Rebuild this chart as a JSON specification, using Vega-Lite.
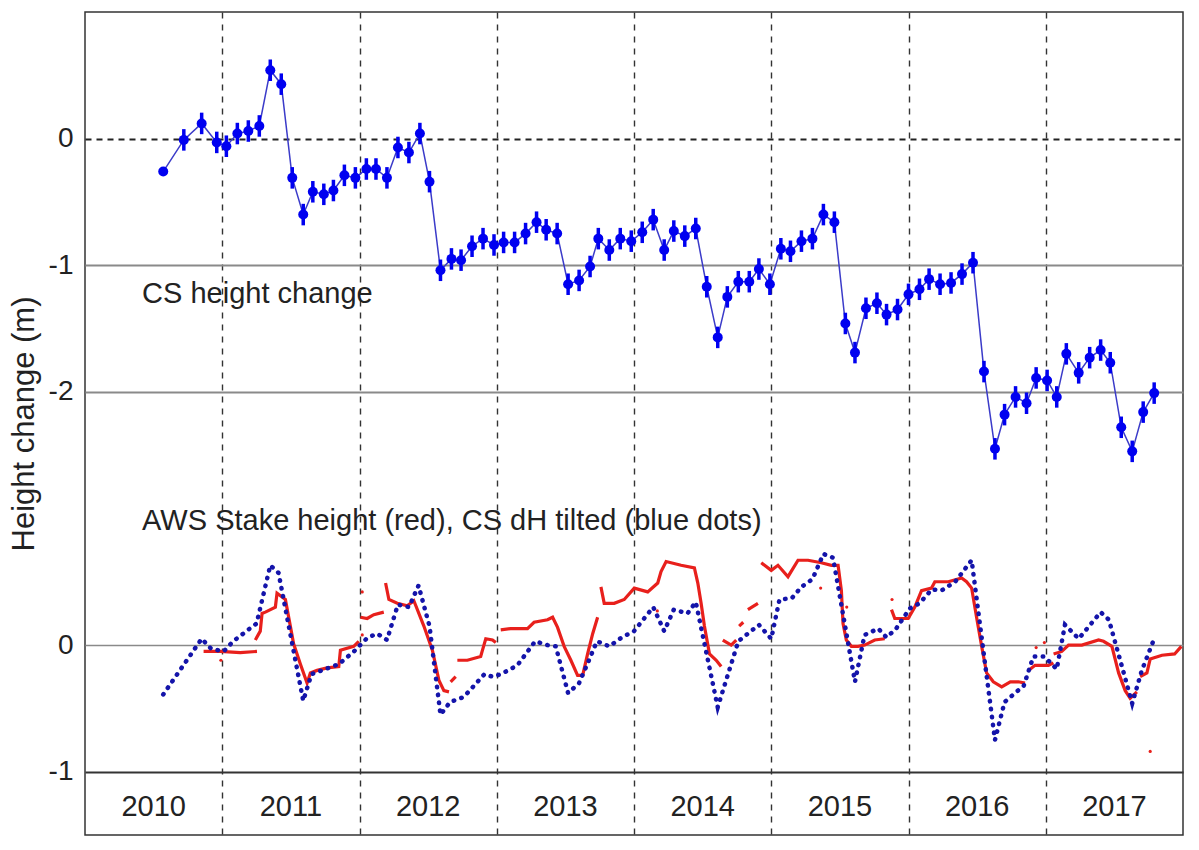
{
  "$schema": "https://vega.github.io/schema/vega-lite/v6.json",
  "width": 1098,
  "height": 823,
  "autosize": {"type": "none"},
  "padding": {"left": 85, "top": 12, "right": 16, "bottom": 15},
  "background": "white",
  "config": {
    "font": "Liberation Sans",
    "view": {"stroke": "#333333", "strokeWidth": 1.5}
  },
  "datasets": {
    "cs": [
      {"t": 2010.57, "v": -0.26, "err": 0},
      {"t": 2010.72, "v": -0.01, "err": 0.085},
      {"t": 2010.85, "v": 0.12, "err": 0.085},
      {"t": 2010.96, "v": -0.03, "err": 0.085},
      {"t": 2011.03, "v": -0.06, "err": 0.085},
      {"t": 2011.11, "v": 0.04, "err": 0.085},
      {"t": 2011.19, "v": 0.06, "err": 0.085},
      {"t": 2011.27, "v": 0.10, "err": 0.085},
      {"t": 2011.35, "v": 0.54, "err": 0.085},
      {"t": 2011.43, "v": 0.43, "err": 0.085},
      {"t": 2011.51, "v": -0.31, "err": 0.085},
      {"t": 2011.59, "v": -0.60, "err": 0.085},
      {"t": 2011.66, "v": -0.42, "err": 0.085},
      {"t": 2011.74, "v": -0.44, "err": 0.085},
      {"t": 2011.81, "v": -0.41, "err": 0.085},
      {"t": 2011.89, "v": -0.29, "err": 0.085},
      {"t": 2011.97, "v": -0.31, "err": 0.085},
      {"t": 2012.05, "v": -0.24, "err": 0.085},
      {"t": 2012.12, "v": -0.24, "err": 0.085},
      {"t": 2012.20, "v": -0.31, "err": 0.085},
      {"t": 2012.28, "v": -0.07, "err": 0.085},
      {"t": 2012.36, "v": -0.11, "err": 0.085},
      {"t": 2012.44, "v": 0.04, "err": 0.085},
      {"t": 2012.51, "v": -0.34, "err": 0.085},
      {"t": 2012.59, "v": -1.04, "err": 0.085},
      {"t": 2012.67, "v": -0.95, "err": 0.085},
      {"t": 2012.74, "v": -0.96, "err": 0.085},
      {"t": 2012.82, "v": -0.85, "err": 0.085},
      {"t": 2012.90, "v": -0.79, "err": 0.085},
      {"t": 2012.98, "v": -0.84, "err": 0.085},
      {"t": 2013.05, "v": -0.82, "err": 0.085},
      {"t": 2013.13, "v": -0.82, "err": 0.085},
      {"t": 2013.21, "v": -0.75, "err": 0.085},
      {"t": 2013.29, "v": -0.66, "err": 0.085},
      {"t": 2013.36, "v": -0.72, "err": 0.085},
      {"t": 2013.44, "v": -0.75, "err": 0.085},
      {"t": 2013.52, "v": -1.15, "err": 0.085},
      {"t": 2013.60, "v": -1.12, "err": 0.085},
      {"t": 2013.68, "v": -1.01, "err": 0.085},
      {"t": 2013.74, "v": -0.79, "err": 0.085},
      {"t": 2013.82, "v": -0.88, "err": 0.085},
      {"t": 2013.90, "v": -0.79, "err": 0.085},
      {"t": 2013.98, "v": -0.81, "err": 0.085},
      {"t": 2014.06, "v": -0.74, "err": 0.085},
      {"t": 2014.14, "v": -0.64, "err": 0.085},
      {"t": 2014.22, "v": -0.88, "err": 0.085},
      {"t": 2014.29, "v": -0.73, "err": 0.085},
      {"t": 2014.37, "v": -0.77, "err": 0.085},
      {"t": 2014.45, "v": -0.71, "err": 0.085},
      {"t": 2014.53, "v": -1.17, "err": 0.085},
      {"t": 2014.61, "v": -1.57, "err": 0.085},
      {"t": 2014.68, "v": -1.25, "err": 0.085},
      {"t": 2014.76, "v": -1.13, "err": 0.085},
      {"t": 2014.84, "v": -1.13, "err": 0.085},
      {"t": 2014.91, "v": -1.03, "err": 0.085},
      {"t": 2014.99, "v": -1.15, "err": 0.085},
      {"t": 2015.07, "v": -0.87, "err": 0.085},
      {"t": 2015.14, "v": -0.89, "err": 0.085},
      {"t": 2015.22, "v": -0.81, "err": 0.085},
      {"t": 2015.30, "v": -0.79, "err": 0.085},
      {"t": 2015.38, "v": -0.60, "err": 0.085},
      {"t": 2015.46, "v": -0.66, "err": 0.085},
      {"t": 2015.54, "v": -1.46, "err": 0.085},
      {"t": 2015.61, "v": -1.69, "err": 0.085},
      {"t": 2015.69, "v": -1.34, "err": 0.085},
      {"t": 2015.77, "v": -1.30, "err": 0.085},
      {"t": 2015.84, "v": -1.39, "err": 0.085},
      {"t": 2015.92, "v": -1.35, "err": 0.085},
      {"t": 2016.00, "v": -1.23, "err": 0.085},
      {"t": 2016.08, "v": -1.19, "err": 0.085},
      {"t": 2016.15, "v": -1.11, "err": 0.085},
      {"t": 2016.23, "v": -1.15, "err": 0.085},
      {"t": 2016.31, "v": -1.14, "err": 0.085},
      {"t": 2016.39, "v": -1.07, "err": 0.085},
      {"t": 2016.47, "v": -0.98, "err": 0.085},
      {"t": 2016.55, "v": -1.84, "err": 0.085},
      {"t": 2016.63, "v": -2.45, "err": 0.085},
      {"t": 2016.70, "v": -2.18, "err": 0.085},
      {"t": 2016.78, "v": -2.04, "err": 0.085},
      {"t": 2016.86, "v": -2.09, "err": 0.085},
      {"t": 2016.93, "v": -1.89, "err": 0.085},
      {"t": 2017.01, "v": -1.91, "err": 0.085},
      {"t": 2017.08, "v": -2.04, "err": 0.085},
      {"t": 2017.15, "v": -1.70, "err": 0.085},
      {"t": 2017.24, "v": -1.85, "err": 0.085},
      {"t": 2017.32, "v": -1.73, "err": 0.085},
      {"t": 2017.40, "v": -1.67, "err": 0.085},
      {"t": 2017.47, "v": -1.77, "err": 0.085},
      {"t": 2017.55, "v": -2.28, "err": 0.085},
      {"t": 2017.63, "v": -2.47, "err": 0.085},
      {"t": 2017.71, "v": -2.16, "err": 0.085},
      {"t": 2017.79, "v": -2.01, "err": 0.085}
    ],
    "tilted": [
      {"t": 2010.57, "v": -0.39},
      {"t": 2010.85, "v": 0.05},
      {"t": 2010.92, "v": -0.03},
      {"t": 2011.01, "v": -0.05},
      {"t": 2011.08, "v": 0.03},
      {"t": 2011.20, "v": 0.13},
      {"t": 2011.25, "v": 0.17},
      {"t": 2011.35, "v": 0.63},
      {"t": 2011.41, "v": 0.57},
      {"t": 2011.59, "v": -0.44},
      {"t": 2011.65, "v": -0.23},
      {"t": 2011.85, "v": -0.15},
      {"t": 2011.96, "v": -0.05},
      {"t": 2012.06, "v": 0.06},
      {"t": 2012.13, "v": 0.09},
      {"t": 2012.20, "v": 0.04},
      {"t": 2012.28, "v": 0.32},
      {"t": 2012.36, "v": 0.30},
      {"t": 2012.43, "v": 0.47},
      {"t": 2012.51, "v": 0.15},
      {"t": 2012.59, "v": -0.55},
      {"t": 2012.66, "v": -0.45},
      {"t": 2012.76, "v": -0.41},
      {"t": 2012.91, "v": -0.23},
      {"t": 2012.97, "v": -0.25},
      {"t": 2013.03, "v": -0.23},
      {"t": 2013.15, "v": -0.16},
      {"t": 2013.28, "v": 0.03},
      {"t": 2013.37, "v": 0.00},
      {"t": 2013.43, "v": -0.01},
      {"t": 2013.52, "v": -0.38},
      {"t": 2013.60, "v": -0.30},
      {"t": 2013.66, "v": -0.15},
      {"t": 2013.73, "v": 0.03},
      {"t": 2013.82, "v": -0.01},
      {"t": 2013.91, "v": 0.06},
      {"t": 2014.00, "v": 0.11},
      {"t": 2014.14, "v": 0.30},
      {"t": 2014.22, "v": 0.11},
      {"t": 2014.29, "v": 0.28},
      {"t": 2014.39, "v": 0.25},
      {"t": 2014.45, "v": 0.34},
      {"t": 2014.61, "v": -0.49},
      {"t": 2014.76, "v": 0.03},
      {"t": 2014.91, "v": 0.16},
      {"t": 2015.00, "v": 0.05},
      {"t": 2015.06, "v": 0.36},
      {"t": 2015.15, "v": 0.37},
      {"t": 2015.22, "v": 0.46},
      {"t": 2015.30, "v": 0.52},
      {"t": 2015.38, "v": 0.72},
      {"t": 2015.45, "v": 0.69},
      {"t": 2015.61, "v": -0.29},
      {"t": 2015.68, "v": 0.08},
      {"t": 2015.78, "v": 0.13},
      {"t": 2015.84, "v": 0.06},
      {"t": 2015.91, "v": 0.13},
      {"t": 2016.01, "v": 0.29},
      {"t": 2016.08, "v": 0.33},
      {"t": 2016.17, "v": 0.44},
      {"t": 2016.24, "v": 0.43},
      {"t": 2016.34, "v": 0.50},
      {"t": 2016.46, "v": 0.67},
      {"t": 2016.63, "v": -0.75},
      {"t": 2016.70, "v": -0.45},
      {"t": 2016.84, "v": -0.32},
      {"t": 2016.91, "v": -0.09},
      {"t": 2016.99, "v": -0.09},
      {"t": 2017.08, "v": -0.19},
      {"t": 2017.14, "v": 0.16},
      {"t": 2017.24, "v": 0.05},
      {"t": 2017.40, "v": 0.26},
      {"t": 2017.46, "v": 0.20},
      {"t": 2017.63, "v": -0.46},
      {"t": 2017.70, "v": -0.20},
      {"t": 2017.79, "v": 0.05}
    ],
    "stake": [
      {"t": 2010.864, "v": -0.05, "seg": 1},
      {"t": 2010.985, "v": -0.05, "seg": 1},
      {"t": 2011.131, "v": -0.06, "seg": 1},
      {"t": 2011.253, "v": -0.05, "seg": 1},
      {"t": 2011.241, "v": 0.04, "seg": 2},
      {"t": 2011.277, "v": 0.11, "seg": 2},
      {"t": 2011.290, "v": 0.25, "seg": 2},
      {"t": 2011.314, "v": 0.26, "seg": 2},
      {"t": 2011.387, "v": 0.30, "seg": 2},
      {"t": 2011.399, "v": 0.41, "seg": 2},
      {"t": 2011.436, "v": 0.38, "seg": 2},
      {"t": 2011.460, "v": 0.36, "seg": 2},
      {"t": 2011.520, "v": 0.01, "seg": 2},
      {"t": 2011.569, "v": -0.15, "seg": 2},
      {"t": 2011.618, "v": -0.30, "seg": 2},
      {"t": 2011.642, "v": -0.22, "seg": 2},
      {"t": 2011.691, "v": -0.20, "seg": 2},
      {"t": 2011.764, "v": -0.18, "seg": 2},
      {"t": 2011.849, "v": -0.17, "seg": 2},
      {"t": 2011.861, "v": -0.04, "seg": 2},
      {"t": 2011.958, "v": -0.01, "seg": 2},
      {"t": 2011.995, "v": 0.03, "seg": 2},
      {"t": 2012.007, "v": 0.22, "seg": 3},
      {"t": 2012.056, "v": 0.21, "seg": 3},
      {"t": 2012.104, "v": 0.24, "seg": 3},
      {"t": 2012.177, "v": 0.26, "seg": 3},
      {"t": 2012.190, "v": 0.49, "seg": 4},
      {"t": 2012.214, "v": 0.36, "seg": 4},
      {"t": 2012.275, "v": 0.33, "seg": 4},
      {"t": 2012.348, "v": 0.31, "seg": 4},
      {"t": 2012.396, "v": 0.35, "seg": 4},
      {"t": 2012.469, "v": 0.15, "seg": 4},
      {"t": 2012.531, "v": -0.04, "seg": 4},
      {"t": 2012.579, "v": -0.28, "seg": 4},
      {"t": 2012.615, "v": -0.36, "seg": 4},
      {"t": 2012.652, "v": -0.37, "seg": 4},
      {"t": 2012.664, "v": -0.29, "seg": 5},
      {"t": 2012.701, "v": -0.25, "seg": 5},
      {"t": 2012.713, "v": -0.12, "seg": 6},
      {"t": 2012.786, "v": -0.12, "seg": 6},
      {"t": 2012.883, "v": -0.09, "seg": 6},
      {"t": 2012.896, "v": -0.04, "seg": 6},
      {"t": 2012.920, "v": 0.05, "seg": 6},
      {"t": 2012.969, "v": 0.04, "seg": 6},
      {"t": 2012.993, "v": 0.02, "seg": 6},
      {"t": 2013.029, "v": 0.12, "seg": 7},
      {"t": 2013.102, "v": 0.13, "seg": 7},
      {"t": 2013.224, "v": 0.13, "seg": 7},
      {"t": 2013.272, "v": 0.18, "seg": 7},
      {"t": 2013.370, "v": 0.20, "seg": 7},
      {"t": 2013.407, "v": 0.22, "seg": 7},
      {"t": 2013.443, "v": 0.14, "seg": 7},
      {"t": 2013.491, "v": -0.01, "seg": 7},
      {"t": 2013.540, "v": -0.12, "seg": 7},
      {"t": 2013.589, "v": -0.24, "seg": 7},
      {"t": 2013.626, "v": -0.24, "seg": 7},
      {"t": 2013.662, "v": -0.07, "seg": 7},
      {"t": 2013.699, "v": 0.09, "seg": 7},
      {"t": 2013.735, "v": 0.22, "seg": 7},
      {"t": 2013.759, "v": 0.46, "seg": 8},
      {"t": 2013.783, "v": 0.33, "seg": 8},
      {"t": 2013.856, "v": 0.33, "seg": 8},
      {"t": 2013.929, "v": 0.36, "seg": 8},
      {"t": 2014.002, "v": 0.45, "seg": 8},
      {"t": 2014.100, "v": 0.42, "seg": 8},
      {"t": 2014.173, "v": 0.49, "seg": 8},
      {"t": 2014.197, "v": 0.58, "seg": 8},
      {"t": 2014.234, "v": 0.66, "seg": 8},
      {"t": 2014.343, "v": 0.63, "seg": 8},
      {"t": 2014.440, "v": 0.61, "seg": 8},
      {"t": 2014.465, "v": 0.49, "seg": 8},
      {"t": 2014.489, "v": 0.33, "seg": 8},
      {"t": 2014.513, "v": 0.15, "seg": 8},
      {"t": 2014.550, "v": -0.07, "seg": 8},
      {"t": 2014.599, "v": -0.12, "seg": 8},
      {"t": 2014.635, "v": -0.17, "seg": 8},
      {"t": 2014.647, "v": 0.04, "seg": 9},
      {"t": 2014.708, "v": 0.00, "seg": 9},
      {"t": 2014.745, "v": 0.04, "seg": 9},
      {"t": 2014.766, "v": 0.15, "seg": 10},
      {"t": 2014.796, "v": 0.18, "seg": 10},
      {"t": 2014.830, "v": 0.28, "seg": 11},
      {"t": 2014.903, "v": 0.33, "seg": 11},
      {"t": 2014.927, "v": 0.65, "seg": 12},
      {"t": 2015.000, "v": 0.59, "seg": 12},
      {"t": 2015.049, "v": 0.63, "seg": 12},
      {"t": 2015.122, "v": 0.54, "seg": 12},
      {"t": 2015.195, "v": 0.67, "seg": 12},
      {"t": 2015.268, "v": 0.67, "seg": 12},
      {"t": 2015.365, "v": 0.65, "seg": 12},
      {"t": 2015.438, "v": 0.63, "seg": 12},
      {"t": 2015.487, "v": 0.63, "seg": 12},
      {"t": 2015.511, "v": 0.43, "seg": 12},
      {"t": 2015.523, "v": 0.17, "seg": 12},
      {"t": 2015.547, "v": 0.04, "seg": 12},
      {"t": 2015.584, "v": -0.01, "seg": 12},
      {"t": 2015.633, "v": -0.01, "seg": 12},
      {"t": 2015.681, "v": 0.00, "seg": 12},
      {"t": 2015.754, "v": 0.04, "seg": 12},
      {"t": 2015.827, "v": 0.05, "seg": 12},
      {"t": 2015.876, "v": 0.28, "seg": 13},
      {"t": 2015.900, "v": 0.21, "seg": 13},
      {"t": 2015.998, "v": 0.21, "seg": 13},
      {"t": 2016.046, "v": 0.30, "seg": 13},
      {"t": 2016.095, "v": 0.43, "seg": 13},
      {"t": 2016.168, "v": 0.45, "seg": 13},
      {"t": 2016.192, "v": 0.50, "seg": 13},
      {"t": 2016.290, "v": 0.50, "seg": 13},
      {"t": 2016.387, "v": 0.53, "seg": 13},
      {"t": 2016.423, "v": 0.50, "seg": 13},
      {"t": 2016.460, "v": 0.45, "seg": 13},
      {"t": 2016.496, "v": 0.22, "seg": 13},
      {"t": 2016.533, "v": -0.01, "seg": 13},
      {"t": 2016.569, "v": -0.22, "seg": 13},
      {"t": 2016.618, "v": -0.29, "seg": 13},
      {"t": 2016.679, "v": -0.33, "seg": 13},
      {"t": 2016.742, "v": -0.29, "seg": 13},
      {"t": 2016.801, "v": -0.29, "seg": 13},
      {"t": 2016.849, "v": -0.30, "seg": 13},
      {"t": 2016.874, "v": -0.20, "seg": 14},
      {"t": 2016.922, "v": -0.16, "seg": 14},
      {"t": 2017.020, "v": -0.16, "seg": 14},
      {"t": 2017.056, "v": -0.14, "seg": 14},
      {"t": 2017.057, "v": -0.07, "seg": 15},
      {"t": 2017.117, "v": -0.05, "seg": 15},
      {"t": 2017.166, "v": 0.00, "seg": 15},
      {"t": 2017.263, "v": 0.00, "seg": 15},
      {"t": 2017.385, "v": 0.04, "seg": 15},
      {"t": 2017.421, "v": 0.03, "seg": 15},
      {"t": 2017.482, "v": -0.01, "seg": 15},
      {"t": 2017.531, "v": -0.22, "seg": 15},
      {"t": 2017.579, "v": -0.36, "seg": 15},
      {"t": 2017.615, "v": -0.42, "seg": 15},
      {"t": 2017.664, "v": -0.37, "seg": 15},
      {"t": 2017.688, "v": -0.25, "seg": 16},
      {"t": 2017.737, "v": -0.22, "seg": 16},
      {"t": 2017.761, "v": -0.11, "seg": 16},
      {"t": 2017.847, "v": -0.08, "seg": 16},
      {"t": 2017.939, "v": -0.07, "seg": 16},
      {"t": 2017.988, "v": -0.01, "seg": 16}
    ],
    "stakeOutliers": [
      {"t": 2010.99, "v": -0.12},
      {"t": 2012.02, "v": 0.42},
      {"t": 2012.02, "v": 0.08},
      {"t": 2014.17, "v": 0.27},
      {"t": 2015.36, "v": 0.45},
      {"t": 2015.55, "v": 0.30},
      {"t": 2015.88, "v": 0.36},
      {"t": 2016.99, "v": 0.02},
      {"t": 2016.93, "v": -0.02},
      {"t": 2017.761, "v": -0.84}
    ],
    "yearLabels": [
      {"label": "2010", "tmid": 2010.5},
      {"label": "2011", "tmid": 2011.5},
      {"label": "2012", "tmid": 2012.5},
      {"label": "2013", "tmid": 2013.5},
      {"label": "2014", "tmid": 2014.5},
      {"label": "2015", "tmid": 2015.5},
      {"label": "2016", "tmid": 2016.5},
      {"label": "2017", "tmid": 2017.5}
    ],
    "one": [{"n": 1}]
  },
  "layer": [
    {
      "layer": [
        {
          "data": {"name": "cs"},
          "mark": {"type": "line", "color": "#3b3bc9", "strokeWidth": 1.5},
          "encoding": {
            "x": {
              "field": "t",
              "type": "quantitative",
              "title": null,
              "scale": {"domain": [2010, 2018], "nice": false, "zero": false},
              "axis": {
                "values": [2011, 2012, 2013, 2014, 2015, 2016, 2017],
                "grid": true,
                "gridDash": [6, 6],
                "gridColor": "#333333",
                "gridWidth": 1.4,
                "labels": false,
                "ticks": false,
                "domain": false
              }
            },
            "y": {
              "field": "v",
              "type": "quantitative",
              "title": "Height change (m)",
              "scale": {"domain": [-5.5, 1], "nice": false, "zero": false},
              "axis": {
                "values": [0, -1, -2, -4, -5],
                "labelExpr": "datum.value == 0 || datum.value == -4 ? '0' : (datum.value == -1 || datum.value == -5 ? '-1' : '-2')",
                "labelFont": "Liberation Sans",
                "labelFontSize": 28,
                "labelColor": "#222222",
                "labelPadding": 12,
                "ticks": false,
                "domain": false,
                "grid": true,
                "gridDash": {"condition": {"test": "datum.value == 0", "value": [6, 5]}, "value": []},
                "gridColor": {"condition": [{"test": "datum.value == 0", "value": "#222222"}, {"test": "datum.value == -5", "value": "#333333"}], "value": "#8a8a8a"},
                "gridWidth": {"condition": {"test": "datum.value == -4", "value": 1.3}, "value": 2},
                "titleFont": "Liberation Sans",
                "titleFontSize": 31,
                "titleFontWeight": "normal",
                "titleColor": "#222222",
                "titlePadding": 8
              }
            }
          }
        },
        {
          "data": {"name": "cs"},
          "mark": {"type": "errorbar", "color": "#0000f0", "thickness": 3.5, "rule": {"strokeWidth": 3.5}},
          "encoding": {
            "x": {"field": "t", "type": "quantitative", "title": null},
            "y": {"field": "v", "type": "quantitative", "title": "Height change (m)"},
            "yError": {"field": "err"}
          }
        },
        {
          "data": {"name": "cs"},
          "mark": {"type": "circle", "color": "#0000f0", "size": 100, "opacity": 1},
          "encoding": {
            "x": {"field": "t", "type": "quantitative", "title": null},
            "y": {"field": "v", "type": "quantitative", "title": "Height change (m)"}
          }
        },
        {
          "data": {"name": "yearLabels"},
          "mark": {"type": "text", "font": "Liberation Sans", "fontSize": 29, "align": "center", "baseline": "alphabetic", "color": "#222222"},
          "encoding": {
            "x": {"field": "tmid", "type": "quantitative", "title": null},
            "y": {"datum": -5.35},
            "text": {"field": "label", "type": "nominal"}
          }
        },
        {
          "data": {"name": "one"},
          "mark": {"type": "text", "font": "Liberation Sans", "fontSize": 29, "align": "left", "baseline": "alphabetic", "color": "#222222"},
          "encoding": {
            "x": {"datum": 2010.416},
            "y": {"datum": -1.3},
            "text": {"value": "CS height change"}
          }
        },
        {
          "data": {"name": "one"},
          "mark": {"type": "text", "font": "Liberation Sans", "fontSize": 29, "align": "left", "baseline": "alphabetic", "color": "#222222"},
          "encoding": {
            "x": {"datum": 2010.416},
            "y": {"datum": -3.09},
            "text": {"value": "AWS Stake height (red), CS dH tilted (blue dots)"}
          }
        }
      ]
    },
    {
      "encoding": {
        "x": {"field": "t", "type": "quantitative", "title": null, "scale": {"domain": [2010, 2018], "nice": false, "zero": false}},
        "y": {"field": "v", "type": "quantitative", "scale": {"domain": [-1.5, 5], "nice": false, "zero": false}, "axis": null}
      },
      "layer": [
        {
          "data": {"name": "stake"},
          "mark": {"type": "line", "color": "#e8201c", "strokeWidth": 3.2},
          "encoding": {"detail": {"field": "seg", "type": "nominal"}}
        },
        {
          "data": {"name": "stakeOutliers"},
          "mark": {"type": "circle", "color": "#e8201c", "size": 10, "opacity": 1}
        },
        {
          "data": {"name": "tilted"},
          "mark": {"type": "line", "color": "#1414aa", "strokeWidth": 4.5, "strokeDash": [0.5, 7.5], "strokeCap": "round"}
        }
      ]
    }
  ],
  "resolve": {"scale": {"y": "independent"}}
}
